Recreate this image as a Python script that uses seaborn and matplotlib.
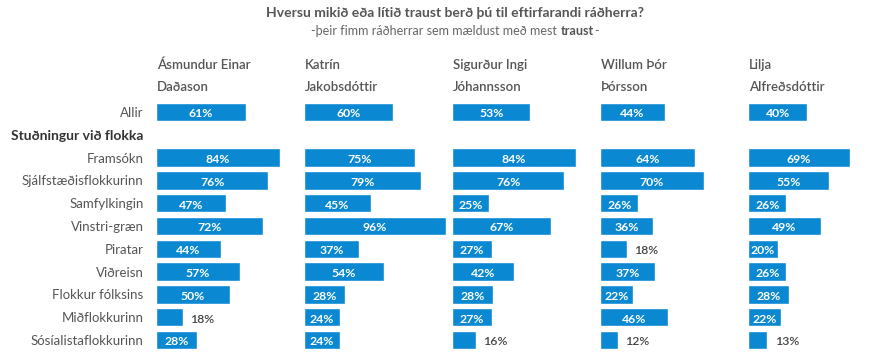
import matplotlib
matplotlib.use("Agg")
import matplotlib.pyplot as plt
import seaborn as sns
import pandas as pd

sns.set_theme(style="white")
plt.rcParams["font.family"] = ["Lato", "DejaVu Sans"]

ministers = ["Ásmundur Einar\nDaðason", "Katrín\nJakobsdóttir", "Sigurður Ingi\nJóhannsson",
             "Willum Þór\nÞórsson", "Lilja\nAlfreðsdóttir"]
groups = ["Allir", "Framsókn", "Sjálfstæðisflokkurinn", "Samfylkingin", "Vinstri-græn",
          "Piratar", "Viðreisn", "Flokkur fólksins", "Miðflokkurinn", "Sósíalistaflokkurinn"]
header_row = "Stuðningur við flokka"
asmundur = [61, 84, 76, 47, 72, 44, 57, 50, 18, 28]
katrin = [60, 75, 79, 45, 96, 37, 54, 28, 24, 24]
sigurdur = [53, 84, 76, 25, 67, 27, 42, 28, 27, 16]
willum = [44, 64, 70, 26, 36, 18, 37, 22, 46, 12]
lilja = [40, 69, 55, 26, 49, 20, 26, 28, 22, 13]
series = [asmundur, katrin, sigurdur, willum, lilja]

title = "Hversu mikið eða lítið traust berð þú til eftirfarandi ráðherra?"
sub_parts = [("-þeir fimm ráðherrar sem mældust með mest ", "normal"), ("traust", "bold"), ("-", "normal")]

order = [groups[0], header_row] + groups[1:]
BAR = "#0a88d2"
GRAY = "#555555"

W, H = 870, 357
fig = plt.figure(figsize=(W / 100, H / 100), dpi=100)

panel_left = [156, 304, 452, 600, 748]
panel_w = 148
top_px, step = 112, 22.8
y0 = top_px - step / 2
y1 = y0 + step * 11

for i, (name, vals) in enumerate(zip(ministers, series)):
    ax = fig.add_axes([panel_left[i] / W, (H - y1) / H, panel_w / W, (y1 - y0) / H])
    df = pd.DataFrame({"grp": groups, "val": vals})
    sns.barplot(data=df, x="val", y="grp", order=order, ax=ax, color=BAR,
                saturation=1, width=0.8, orient="h", errorbar=None)
    ax.set_xlim(0, 100)
    ax.set_xlabel("")
    ax.set_ylabel("")
    ax.set_xticks([])
    for s in ax.spines.values():
        s.set_visible(False)
    for g, v in zip(groups, vals):
        yi = order.index(g)
        if v >= 20:
            ax.text(v / 2, yi + 0.08, f"{v}%", ha="center", va="center", color="white",
                    fontsize=8.8, fontweight="bold")
        else:
            ax.text(v + 5, yi + 0.08, f"{v}%", ha="left", va="center", color="#444444",
                    fontsize=8.8, fontweight="semibold")
    if i == 0:
        ax.tick_params(axis="y", length=0, pad=9, labelsize=9.5, labelcolor=GRAY)
        for lab in ax.get_yticklabels():
            if lab.get_text() == header_row:
                lab.set_fontweight("bold")
                lab.set_color("#333333")
                lab.set_fontsize(10)
    else:
        ax.set_yticks([])
    lines = name.split("\n")
    fig.text((panel_left[i] + 1) / W, 1 - 65 / H, lines[0], ha="left", va="center",
             fontsize=9.5, color=GRAY, fontweight="semibold")
    fig.text((panel_left[i] + 1) / W, 1 - 87 / H, lines[1], ha="left", va="center",
             fontsize=9.5, color=GRAY, fontweight="semibold")

fig.text(455 / W, 1 - 13 / H, title, ha="center", va="center", fontsize=10,
         fontweight="bold", color=GRAY)

# subtitle with mixed weights
texts = []
for s, wgt in sub_parts:
    texts.append(fig.text(0, 1 - 31 / H, s, ha="left", va="center", fontsize=9,
                          fontweight=wgt, color="#666666" if wgt == "normal" else GRAY))
fig.canvas.draw()
r = fig.canvas.get_renderer()
widths = [t.get_window_extent(r).width for t in texts]
x = 455 - sum(widths) / 2
for t, w in zip(texts, widths):
    t.set_x(x / W)
    x += w

fig.savefig("out.png", dpi=100, facecolor="white")
